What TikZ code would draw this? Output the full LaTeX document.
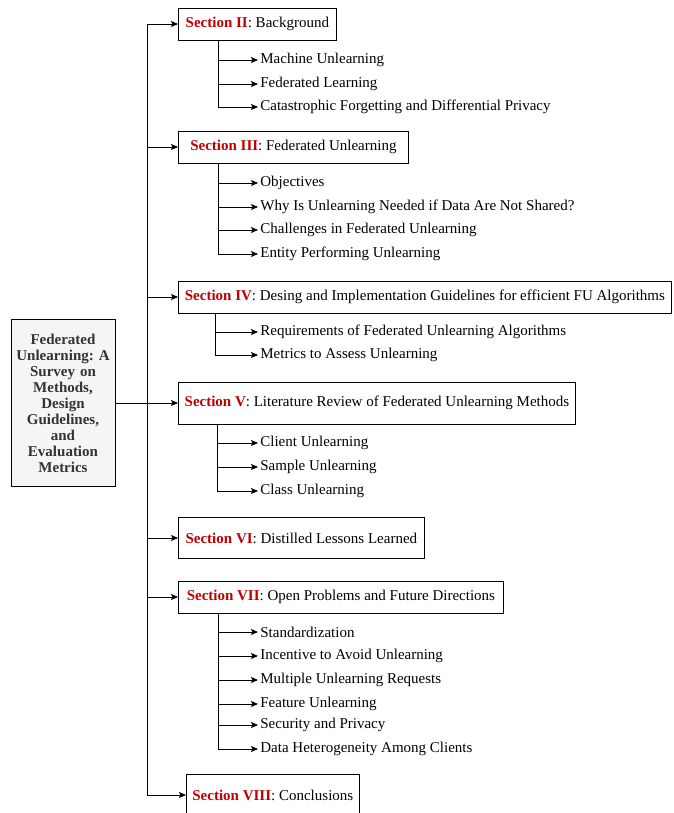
\documentclass[tikz,border=0pt]{standalone}
\usepackage{fontspec}
\setmainfont{Liberation Serif}
\usetikzlibrary{arrows.meta}
\definecolor{secred}{HTML}{C00000}
\definecolor{rootfill}{HTML}{F5F5F5}
\definecolor{roottext}{HTML}{333333}
\newcommand{\secname}[1]{\textcolor{secred}{\textbf{Section #1}}}
\frenchspacing

\begin{document}
\begin{tikzpicture}[x=1pt,y=-1pt,
		font=\fontsize{15}{17}\selectfont,
		>={Stealth[length=7pt,width=6pt,inset=1.5pt]},
		line width=0.8pt,
		root/.style={draw, fill=rootfill, text=roottext, align=center, text width=102pt,
			minimum width=104pt, minimum height=167pt, inner xsep=1pt, font=\fontsize{15}{16}\selectfont\bfseries},
		secbox/.style={draw, anchor=west, inner xsep=6pt, minimum height=32pt},
		subitem/.style={anchor=west, inner xsep=2pt, inner ysep=1pt}]
		\useasboundingbox (0,0) rectangle (673,813);
		
		% root and sections
		\node[root] (root) at (63,403) {Federated\\ Unlearning: A\\ Survey on\\ Methods,\\ Design\\ Guidelines,\\ and\\ Evaluation\\ Metrics};
		\node[secbox, minimum width=158pt] (s2) at (178,24) {\secname{II}: Background};
		\node[secbox, minimum width=230pt] (s3) at (178,147) {\secname{III}: Federated Unlearning};
		\node[secbox, minimum width=493pt] (s4) at (178,297) {\secname{IV}: Desing and Implementation Guidelines for efficient FU Algorithms};
		\node[secbox, minimum width=397pt, minimum height=42pt] (s5) at (178,403) {\secname{V}: Literature Review of Federated Unlearning Methods};
		\node[secbox, minimum width=246pt, minimum height=41pt] (s6) at (178,538) {\secname{VI}: Distilled Lessons Learned};
		\node[secbox, minimum width=325pt] (s7) at (178,597) {\secname{VII}: Open Problems and Future Directions};
		\node[secbox, minimum width=172pt, minimum height=42pt] (s8) at (186,795) {\secname{VIII}: Conclusions};
		
		% trunk
		\coordinate (trunk) at (147,403);
		\draw[->] (root.east) -- (s5.west);
		\draw (trunk |- s2.west) -- (trunk |- s8.west);
		\foreach \s in {s2,s3,s4,s6,s7,s8}
		\draw[->] (trunk |- \s.west) -- (\s.west);
		
		% Section II
		\coordinate (b2) at (218,0);
		\foreach \n/\y/\t in {1/60/Machine Unlearning, 2/84/Federated Learning, 3/107/Catastrophic Forgetting and Differential Privacy}
		{
			\node[subitem] (s2i\n) at (258,\y) {\t};
			\draw[->] (b2 |- s2i\n.west) -- (s2i\n.west);
		}
		\draw (b2 |- s2.south) -- (b2 |- s2i3.west);
		
		% Section III
		\coordinate (b3) at (218,0);
		\foreach \n/\y/\t in {1/183/Objectives, 2/207/Why Is Unlearning Needed if Data Are Not Shared?, 3/230/Challenges in Federated Unlearning, 4/254/Entity Performing Unlearning}
		{
			\node[subitem] (s3i\n) at (258,\y) {\t};
			\draw[->] (b3 |- s3i\n.west) -- (s3i\n.west);
		}
		\draw (b3 |- s3.south) -- (b3 |- s3i4.west);
		
		% Section IV
		\coordinate (b4) at (215,0);
		\foreach \n/\y/\t in {1/332/Requirements of Federated Unlearning Algorithms, 2/355/Metrics to Assess Unlearning}
		{
			\node[subitem] (s4i\n) at (258,\y) {\t};
			\draw[->] (b4 |- s4i\n.west) -- (s4i\n.west);
		}
		\draw (b4 |- s4.south) -- (b4 |- s4i2.west);
		
		% Section V
		\coordinate (b5) at (217,0);
		\foreach \n/\y/\t in {1/443/Client Unlearning, 2/467/Sample Unlearning, 3/491/Class Unlearning}
		{
			\node[subitem] (s5i\n) at (258,\y) {\t};
			\draw[->] (b5 |- s5i\n.west) -- (s5i\n.west);
		}
		\draw (b5 |- s5.south) -- (b5 |- s5i3.west);
		
		% Section VII
		\coordinate (b7) at (218,0);
		\foreach \n/\y/\t in {1/632/Standardization, 2/656/Incentive to Avoid Unlearning, 3/680/Multiple Unlearning Requests, 4/704/Feature Unlearning, 5/725/Security and Privacy, 6/749/Data Heterogeneity Among Clients}
		{
			\node[subitem] (s7i\n) at (258,\y) {\t};
			\draw[->] (b7 |- s7i\n.west) -- (s7i\n.west);
		}
		\draw (b7 |- s7.south) -- (b7 |- s7i6.west);
		
\end{tikzpicture}
\end{document}
